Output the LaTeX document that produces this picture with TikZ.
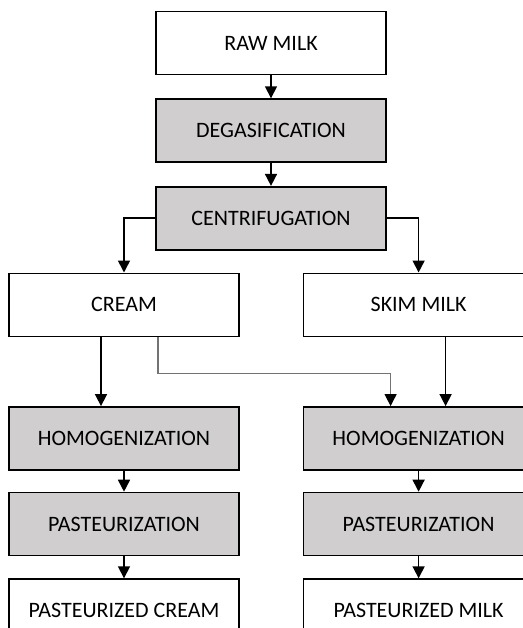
\documentclass[tikz,border=0pt]{standalone}
\usepackage{fontspec}
\setmainfont{Carlito}
\usetikzlibrary{arrows.meta,positioning}

\definecolor{stepgray}{HTML}{D0CECE}

\begin{document}
\begin{tikzpicture}[x=0.75pt,y=-0.75pt,
  plain/.style={rectangle, draw, line width=1.2pt, minimum height=47.25pt, minimum width=172.5pt, text centered, font=\fontsize{16.5}{19}\selectfont},
  process/.style={plain, fill=stepgray},
  flow/.style={-{Triangle[width=9pt,length=9pt]}, line width=1.2pt},
  feed/.style={-{Triangle[width=9pt,length=9pt,color=black]}, line width=0.8pt, draw=black!55}]

\clip (0,0) rectangle (523,628);

%Nodes
\node[plain]   (raw)     at (271,43)                  {RAW MILK};
\node[process] (degas)   [below=17.25pt of raw]       {DEGASIFICATION};
\node[process] (centrif) [below=17.25pt of degas]     {CENTRIFUGATION};
\node[plain]   (cream)   [below=16.5pt of centrif, xshift=-110.25pt] {CREAM};
\node[plain]   (skim)    [right=47.25pt of cream]     {SKIM MILK};
\node[process] (homogL)  [below=51.75pt of cream]     {HOMOGENIZATION};
\node[process] (homogR)  [below=51.75pt of skim]      {HOMOGENIZATION};
\node[process] (pastL)   [below=15.75pt of homogL]    {PASTEURIZATION};
\node[process] (pastR)   [below=15.75pt of homogR]    {PASTEURIZATION};
\node[plain]   (prodL)   [below=16.5pt of pastL]      {PASTEURIZED CREAM};
\node[plain]   (prodR)   [below=16.5pt of pastR]      {PASTEURIZED MILK};

%Lines
\draw[flow] (raw) -- (degas);
\draw[flow] (degas) -- (centrif);
\draw[flow] (centrif.west) -| (cream.north);
\draw[flow] (centrif.east) -| (skim.north);

\draw[flow] ([xshift=-17.25pt]cream.south) -- ([xshift=-17.25pt]homogL.north);
\draw[feed] ([xshift=25.5pt]cream.south) |- ([xshift=-21pt,yshift=24.75pt]homogR.north) -- ([xshift=-21pt]homogR.north);
\draw[flow] ([xshift=20.25pt]skim.south) -- ([xshift=20.25pt]homogR.north);

\draw[flow] (homogL) -- (pastL);
\draw[flow] (pastL) -- (prodL);
\draw[flow] (homogR) -- (pastR);
\draw[flow] (pastR) -- (prodR);

\end{tikzpicture}
\end{document}
